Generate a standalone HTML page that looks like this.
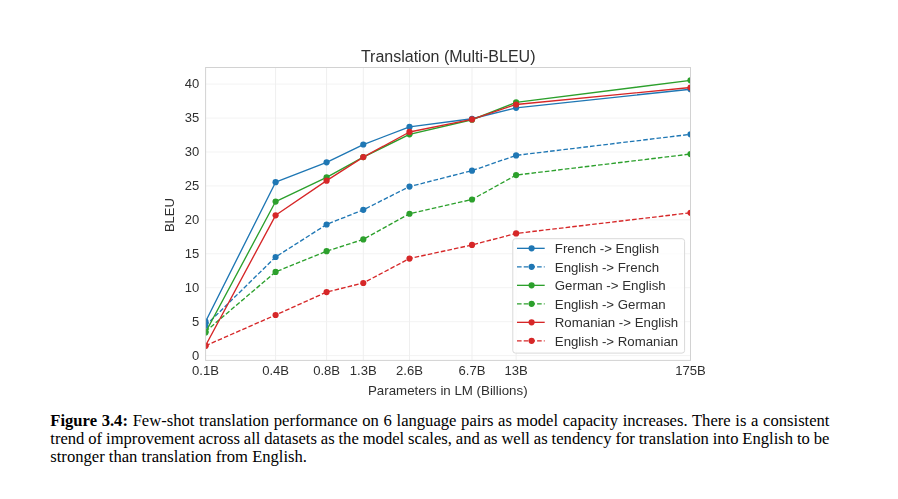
<!DOCTYPE html>
<html><head><meta charset="utf-8">
<style>
html,body{margin:0;padding:0;background:#fff;}
body{width:898px;height:499px;position:relative;overflow:hidden;}
.cap{position:absolute;left:50.3px;width:779.2px;height:18px;font-family:"Liberation Serif",serif;font-size:16.6px;line-height:18px;color:#000;text-align:justify;text-align-last:justify;word-spacing:-1.5px;white-space:normal;}
.c3{text-align-last:left;word-spacing:0;}
.cap b{font-weight:bold;}
</style></head><body>
<svg width="898" height="400" viewBox="0 0 898 400" style="position:absolute;left:0;top:0;will-change:transform"><defs><clipPath id="ax"><rect x="205.60" y="67.50" width="484.90" height="292.90"/></clipPath></defs><path d="M205.60 355.60H690.50 M205.60 321.67H690.50 M205.60 287.73H690.50 M205.60 253.80H690.50 M205.60 219.86H690.50 M205.60 185.93H690.50 M205.60 151.99H690.50 M205.60 118.06H690.50 M205.60 84.12H690.50" stroke="#f3f3f3" stroke-width="1" fill="none"/><path d="M275.60 67.50V360.40 M326.60 67.50V360.40 M363.30 67.50V360.40 M409.50 67.50V360.40 M472.00 67.50V360.40 M516.10 67.50V360.40" stroke="#efefef" stroke-width="1" fill="none"/><g clip-path="url(#ax)"><polyline points="205.50,321.67 275.60,182.19 326.60,162.31 363.30,144.52 409.50,126.88 472.00,118.73 516.10,107.87 690.50,89.21" fill="none" stroke="#1f77b4" stroke-width="1.35" stroke-linejoin="round"/><circle cx="205.50" cy="321.67" r="3.1" fill="#1f77b4"/><circle cx="275.60" cy="182.19" r="3.1" fill="#1f77b4"/><circle cx="326.60" cy="162.31" r="3.1" fill="#1f77b4"/><circle cx="363.30" cy="144.52" r="3.1" fill="#1f77b4"/><circle cx="409.50" cy="126.88" r="3.1" fill="#1f77b4"/><circle cx="472.00" cy="118.73" r="3.1" fill="#1f77b4"/><circle cx="516.10" cy="107.87" r="3.1" fill="#1f77b4"/><circle cx="690.50" cy="89.21" r="3.1" fill="#1f77b4"/><polyline points="205.50,325.74 275.60,256.98 326.60,224.48 363.30,209.82 409.50,186.60 472.00,170.65 516.10,155.38 690.50,134.34" fill="none" stroke="#1f77b4" stroke-width="1.35" stroke-linejoin="round" stroke-dasharray="4.6 2.1"/><circle cx="205.50" cy="325.74" r="3.1" fill="#1f77b4"/><circle cx="275.60" cy="256.98" r="3.1" fill="#1f77b4"/><circle cx="326.60" cy="224.48" r="3.1" fill="#1f77b4"/><circle cx="363.30" cy="209.82" r="3.1" fill="#1f77b4"/><circle cx="409.50" cy="186.60" r="3.1" fill="#1f77b4"/><circle cx="472.00" cy="170.65" r="3.1" fill="#1f77b4"/><circle cx="516.10" cy="155.38" r="3.1" fill="#1f77b4"/><circle cx="690.50" cy="134.34" r="3.1" fill="#1f77b4"/><polyline points="205.50,332.52 275.60,201.54 326.60,177.31 363.30,157.08 409.50,134.34 472.00,119.75 516.10,102.44 690.50,80.32" fill="none" stroke="#2ca02c" stroke-width="1.35" stroke-linejoin="round"/><circle cx="205.50" cy="332.52" r="3.1" fill="#2ca02c"/><circle cx="275.60" cy="201.54" r="3.1" fill="#2ca02c"/><circle cx="326.60" cy="177.31" r="3.1" fill="#2ca02c"/><circle cx="363.30" cy="157.08" r="3.1" fill="#2ca02c"/><circle cx="409.50" cy="134.34" r="3.1" fill="#2ca02c"/><circle cx="472.00" cy="119.75" r="3.1" fill="#2ca02c"/><circle cx="516.10" cy="102.44" r="3.1" fill="#2ca02c"/><circle cx="690.50" cy="80.32" r="3.1" fill="#2ca02c"/><polyline points="205.50,331.51 275.60,271.92 326.60,251.22 363.30,239.41 409.50,213.75 472.00,199.50 516.10,175.07 690.50,154.03" fill="none" stroke="#2ca02c" stroke-width="1.35" stroke-linejoin="round" stroke-dasharray="4.6 2.1"/><circle cx="205.50" cy="331.51" r="3.1" fill="#2ca02c"/><circle cx="275.60" cy="271.92" r="3.1" fill="#2ca02c"/><circle cx="326.60" cy="251.22" r="3.1" fill="#2ca02c"/><circle cx="363.30" cy="239.41" r="3.1" fill="#2ca02c"/><circle cx="409.50" cy="213.75" r="3.1" fill="#2ca02c"/><circle cx="472.00" cy="199.50" r="3.1" fill="#2ca02c"/><circle cx="516.10" cy="175.07" r="3.1" fill="#2ca02c"/><circle cx="690.50" cy="154.03" r="3.1" fill="#2ca02c"/><polyline points="205.50,345.76 275.60,215.31 326.60,180.63 363.30,157.08 409.50,131.97 472.00,119.41 516.10,104.48 690.50,87.51" fill="none" stroke="#d62728" stroke-width="1.35" stroke-linejoin="round"/><circle cx="205.50" cy="345.76" r="3.1" fill="#d62728"/><circle cx="275.60" cy="215.31" r="3.1" fill="#d62728"/><circle cx="326.60" cy="180.63" r="3.1" fill="#d62728"/><circle cx="363.30" cy="157.08" r="3.1" fill="#d62728"/><circle cx="409.50" cy="131.97" r="3.1" fill="#d62728"/><circle cx="472.00" cy="119.41" r="3.1" fill="#d62728"/><circle cx="516.10" cy="104.48" r="3.1" fill="#d62728"/><circle cx="690.50" cy="87.51" r="3.1" fill="#d62728"/><polyline points="205.50,345.76 275.60,315.01 326.60,292.07 363.30,282.98 409.50,258.55 472.00,244.97 516.10,233.43 690.50,212.80" fill="none" stroke="#d62728" stroke-width="1.35" stroke-linejoin="round" stroke-dasharray="4.6 2.1"/><circle cx="205.50" cy="345.76" r="3.1" fill="#d62728"/><circle cx="275.60" cy="315.01" r="3.1" fill="#d62728"/><circle cx="326.60" cy="292.07" r="3.1" fill="#d62728"/><circle cx="363.30" cy="282.98" r="3.1" fill="#d62728"/><circle cx="409.50" cy="258.55" r="3.1" fill="#d62728"/><circle cx="472.00" cy="244.97" r="3.1" fill="#d62728"/><circle cx="516.10" cy="233.43" r="3.1" fill="#d62728"/><circle cx="690.50" cy="212.80" r="3.1" fill="#d62728"/></g><rect x="205.60" y="67.50" width="484.90" height="292.90" fill="none" stroke="#d2d2d2" stroke-width="1"/><text x="199.2" y="359.90" text-anchor="end" font-size="13" font-family="Liberation Sans, sans-serif" fill="#2f2f2f">0</text><text x="199.2" y="325.97" text-anchor="end" font-size="13" font-family="Liberation Sans, sans-serif" fill="#2f2f2f">5</text><text x="199.2" y="292.03" text-anchor="end" font-size="13" font-family="Liberation Sans, sans-serif" fill="#2f2f2f">10</text><text x="199.2" y="258.10" text-anchor="end" font-size="13" font-family="Liberation Sans, sans-serif" fill="#2f2f2f">15</text><text x="199.2" y="224.16" text-anchor="end" font-size="13" font-family="Liberation Sans, sans-serif" fill="#2f2f2f">20</text><text x="199.2" y="190.23" text-anchor="end" font-size="13" font-family="Liberation Sans, sans-serif" fill="#2f2f2f">25</text><text x="199.2" y="156.29" text-anchor="end" font-size="13" font-family="Liberation Sans, sans-serif" fill="#2f2f2f">30</text><text x="199.2" y="122.36" text-anchor="end" font-size="13" font-family="Liberation Sans, sans-serif" fill="#2f2f2f">35</text><text x="199.2" y="88.42" text-anchor="end" font-size="13" font-family="Liberation Sans, sans-serif" fill="#2f2f2f">40</text><text x="205.50" y="374.9" text-anchor="middle" font-size="13.1" font-family="Liberation Sans, sans-serif" fill="#2f2f2f">0.1B</text><text x="275.60" y="374.9" text-anchor="middle" font-size="13.1" font-family="Liberation Sans, sans-serif" fill="#2f2f2f">0.4B</text><text x="326.60" y="374.9" text-anchor="middle" font-size="13.1" font-family="Liberation Sans, sans-serif" fill="#2f2f2f">0.8B</text><text x="363.30" y="374.9" text-anchor="middle" font-size="13.1" font-family="Liberation Sans, sans-serif" fill="#2f2f2f">1.3B</text><text x="409.50" y="374.9" text-anchor="middle" font-size="13.1" font-family="Liberation Sans, sans-serif" fill="#2f2f2f">2.6B</text><text x="472.00" y="374.9" text-anchor="middle" font-size="13.1" font-family="Liberation Sans, sans-serif" fill="#2f2f2f">6.7B</text><text x="516.10" y="374.9" text-anchor="middle" font-size="13.1" font-family="Liberation Sans, sans-serif" fill="#2f2f2f">13B</text><text x="690.50" y="374.9" text-anchor="middle" font-size="13.1" font-family="Liberation Sans, sans-serif" fill="#2f2f2f">175B</text><text x="447.8" y="395.0" text-anchor="middle" font-size="13.3" font-family="Liberation Sans, sans-serif" fill="#2f2f2f">Parameters in LM (Billions)</text><text transform="translate(174.4 215.1) rotate(-90)" x="0" y="0" text-anchor="middle" font-size="13" font-family="Liberation Sans, sans-serif" fill="#2f2f2f">BLEU</text><text x="448.2" y="62.0" text-anchor="middle" font-size="16" font-family="Liberation Sans, sans-serif" fill="#2f2f2f">Translation (Multi-BLEU)</text><rect x="512.80" y="238.70" width="171.80" height="114.40" rx="2.6" ry="2.6" fill="#ffffff" fill-opacity="0.8" stroke="#d9d9d9" stroke-width="1"/><path d="M517.0 248.35H544.7" stroke="#1f77b4" stroke-width="1.35"/><circle cx="531.6" cy="248.35" r="3.1" fill="#1f77b4"/><text x="554.8" y="253.05" font-size="13.25" font-family="Liberation Sans, sans-serif" fill="#2f2f2f">French -&gt; English</text><path d="M517.0 266.85H544.7" stroke="#1f77b4" stroke-width="1.35" stroke-dasharray="4.6 2.1"/><circle cx="531.6" cy="266.85" r="3.1" fill="#1f77b4"/><text x="554.8" y="271.55" font-size="13.25" font-family="Liberation Sans, sans-serif" fill="#2f2f2f">English -&gt; French</text><path d="M517.0 285.35H544.7" stroke="#2ca02c" stroke-width="1.35"/><circle cx="531.6" cy="285.35" r="3.1" fill="#2ca02c"/><text x="554.8" y="290.05" font-size="13.25" font-family="Liberation Sans, sans-serif" fill="#2f2f2f">German -&gt; English</text><path d="M517.0 303.85H544.7" stroke="#2ca02c" stroke-width="1.35" stroke-dasharray="4.6 2.1"/><circle cx="531.6" cy="303.85" r="3.1" fill="#2ca02c"/><text x="554.8" y="308.55" font-size="13.25" font-family="Liberation Sans, sans-serif" fill="#2f2f2f">English -&gt; German</text><path d="M517.0 322.35H544.7" stroke="#d62728" stroke-width="1.35"/><circle cx="531.6" cy="322.35" r="3.1" fill="#d62728"/><text x="554.8" y="327.05" font-size="13.25" font-family="Liberation Sans, sans-serif" fill="#2f2f2f">Romanian -&gt; English</text><path d="M517.0 340.85H544.7" stroke="#d62728" stroke-width="1.35" stroke-dasharray="4.6 2.1"/><circle cx="531.6" cy="340.85" r="3.1" fill="#d62728"/><text x="554.8" y="345.55" font-size="13.25" font-family="Liberation Sans, sans-serif" fill="#2f2f2f">English -&gt; Romanian</text></svg>
<div class="cap" style="top:411.8px"><b>Figure 3.4:</b> Few-shot translation performance on 6 language pairs as model capacity increases. There is a consistent</div>
<div class="cap" style="top:429.8px">trend of improvement across all datasets as the model scales, and as well as tendency for translation into English to be</div>
<div class="cap c3" style="top:447.8px">stronger than translation from English.</div>
</body></html>
